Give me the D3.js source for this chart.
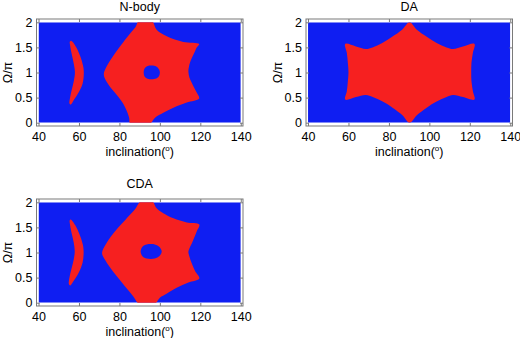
<!DOCTYPE html>
<html>
<head>
<meta charset="utf-8">
<script src="https://cdn.jsdelivr.net/npm/d3@7"></script>
<style>
  body { margin: 0; background: #fff; }
  svg { display: block; font-family: "Liberation Sans", Arial, sans-serif; }
  .tick line { stroke: #7a7a7a; }
  .tick text { font-size: 12.5px; fill: #000; }
</style>
</head>
<body>
<svg id="chart" width="520" height="338"></svg>
<script>
// axis ticks
var xTicks = [40, 60, 80, 100, 120, 140];
var yTicks = [0, 0.5, 1, 1.5, 2];
var yTickLabels = ["0", "0.5", "1", "1.5", "2"];
var panelTitles = ["N-body", "DA", "CDA"];

// grid extent of the scan (inclination, Omega/pi)
var incRange = [40, 140];
var omegaRange = [0, 2];

// red (stable) regions, traced as [inclination, Omega/pi] outlines
var nbodyMain = [[89.8,2.04],[95.9,2.04],[98.4,1.85],[103.4,1.72],[111.6,1.61],[119.4,1.57],
  [118.2,1.5],[117.1,1.4],[115.9,1.3],[114.9,1.2],[114.3,1.1],[114.1,1.02],[114.6,0.9],
  [115.7,0.8],[116.9,0.7],[118.2,0.6],[119.4,0.48],[113.3,0.4],[106.7,0.3],[101.7,0.2],
  [97.6,0.1],[94.6,-0.04],[85.5,-0.04],[84.8,0.1],[84.0,0.2],[82.9,0.3],[81.5,0.4],[79.7,0.5],
  [77.7,0.6],[75.6,0.7],[73.9,0.8],[72.6,0.9],[72.3,0.98],[73.4,1.1],[74.8,1.2],[76.4,1.3],
  [78.1,1.4],[79.9,1.5],[81.8,1.6],[83.8,1.7],[85.8,1.8],[87.9,1.9]];
var nbodyArc = [[56.3,1.63],[58.4,1.52],[60.5,1.34],[62.0,1.14],[62.4,1.0],[61.8,0.78],[59.8,0.6],
  [57.6,0.46],[55.9,0.36],[55.3,0.38],[55.6,0.5],[56.4,0.65],[57.4,0.82],[58.0,1.0],[57.4,1.18],
  [56.5,1.35],[55.7,1.52],[55.5,1.62]];
var nbodyHole = [[92.0,1.0],[92.6,1.09],[94.0,1.13],[96.0,1.14],[98.2,1.12],[99.6,1.06],[100.0,1.0],
  [99.6,0.93],[98.2,0.88],[96.0,0.865],[94.0,0.875],[92.6,0.91]];

var daMain = [[90.2,2.0],[93.8,1.85],[98.7,1.71],[103.6,1.59],[108.5,1.5],[111.7,1.47],[116.6,1.52],
  [122.3,1.57],[121.5,1.39],[120.8,1.19],[120.7,1.0],[120.8,0.83],[121.5,0.63],[122.3,0.46],
  [116.6,0.51],[111.7,0.55],[108.5,0.51],[103.6,0.42],[98.7,0.3],[93.8,0.15],[90.2,0.0],
  [86.7,0.15],[81.8,0.3],[76.9,0.42],[72.0,0.51],[68.6,0.55],[63.7,0.51],[58.4,0.46],
  [59.2,0.63],[59.7,0.83],[60.0,1.0],[59.7,1.19],[59.2,1.39],[58.4,1.57],[63.7,1.52],
  [68.6,1.47],[71.9,1.5],[76.7,1.59],[81.6,1.71],[86.5,1.85]];

var cdaMain = [[91.0,2.04],[95.9,2.04],[98.4,1.88],[101.7,1.78],[106.7,1.68],[113.3,1.6],[119.5,1.56],
  [118.2,1.42],[116.2,1.22],[114.6,1.08],[114.1,1.01],[114.6,0.92],[115.7,0.79],[117.4,0.63],
  [119.5,0.48],[114.1,0.4],[108.3,0.3],[103.3,0.18],[100.0,0.1],[97.1,-0.04],[90.1,-0.04],
  [86.8,0.13],[82.7,0.33],[78.6,0.53],[75.2,0.71],[72.8,0.86],[71.4,0.99],[73.2,1.16],
  [75.8,1.32],[79.2,1.49],[82.9,1.65],[87.5,1.85]];
var cdaArc = [[55.9,1.66],[58.1,1.55],[60.3,1.36],[61.9,1.16],[62.3,1.02],[61.8,0.8],[59.9,0.6],
  [57.5,0.44],[55.6,0.34],[55.0,0.37],[55.3,0.5],[56.2,0.66],[57.3,0.84],[57.9,1.02],[57.4,1.2],
  [56.4,1.38],[55.6,1.55],[55.4,1.64]];
var cdaHole = [[90.5,1.02],[91.5,1.12],[93.5,1.16],[97.5,1.16],[99.8,1.11],[100.9,1.02],
  [99.8,0.93],[97.5,0.88],[93.5,0.88],[91.5,0.92]];

var stableRegions = [[nbodyMain, nbodyArc], [daMain], [cdaMain, cdaArc]];
var holeRegions = [[nbodyHole], [], [cdaHole]];

var BLUE = "#0f1ef2", RED = "#f62020";
var panelW = 206.5, panelH = 107;
var layout = [
  {left: 36.5, top: 19, titleY: -8},
  {left: 306, top: 19, titleY: -8},
  {left: 36.5, top: 199, titleY: -11}
];

var svg = d3.select("#chart");
var x = d3.scaleLinear().domain([39.0, 141.1]).range([0, panelW]);
var y = d3.scaleLinear().domain([-0.066, 2.066]).range([panelH, 0]);

var outline = d3.line()
  .x(function(d){ return x(d[0]); })
  .y(function(d){ return y(d[1]); })
  .curve(d3.curveCatmullRomClosed.alpha(0.5));

panelTitles.forEach(function(title, p){
  var pos = layout[p];
  var g = svg.append("g").attr("transform", "translate(" + pos.left + "," + pos.top + ")");

  g.append("clipPath").attr("id", "clip" + p)
    .append("rect")
    .attr("x", x(incRange[0])).attr("y", y(omegaRange[1]))
    .attr("width", x(incRange[1]) - x(incRange[0]))
    .attr("height", y(omegaRange[0]) - y(omegaRange[1]));

  var field = g.append("g").attr("clip-path", "url(#clip" + p + ")");
  field.append("rect")
    .attr("x", x(incRange[0])).attr("y", y(omegaRange[1]))
    .attr("width", x(incRange[1]) - x(incRange[0]))
    .attr("height", y(omegaRange[0]) - y(omegaRange[1]))
    .attr("fill", BLUE);

  field.selectAll("path.stable").data(stableRegions[p]).enter()
    .append("path").attr("class", "stable")
    .attr("d", outline).attr("fill", RED);

  field.selectAll("path.hole").data(holeRegions[p]).enter()
    .append("path").attr("class", "hole")
    .attr("d", outline).attr("fill", BLUE);

  // axes, ticks pointing inward on all four sides
  g.append("g").attr("transform", "translate(0," + panelH + ")")
    .call(d3.axisBottom(x).tickValues(xTicks).tickSize(-3).tickSizeOuter(0).tickPadding(6));
  g.append("g")
    .call(d3.axisTop(x).tickValues(xTicks).tickSize(-3).tickSizeOuter(0).tickFormat(""));
  g.append("g")
    .call(d3.axisLeft(y).tickValues(yTicks).tickSize(-3).tickSizeOuter(0).tickPadding(4)
      .tickFormat(function(d, i){ return yTickLabels[i]; }));
  g.append("g").attr("transform", "translate(" + panelW + ",0)")
    .call(d3.axisRight(y).tickValues(yTicks).tickSize(-3).tickSizeOuter(0).tickFormat(""));
  g.selectAll(".domain").remove();
  g.selectAll(".tick text").attr("font-family", null);

  g.append("rect").attr("width", panelW).attr("height", panelH)
    .attr("fill", "none").attr("stroke", "#7a7a7a").attr("stroke-width", 1);

  g.append("text").attr("x", panelW / 2).attr("y", pos.titleY)
    .attr("text-anchor", "middle").attr("font-size", 12.5).text(title);

  g.append("text")
    .attr("transform", "translate(-24.5," + (panelH / 2) + ") rotate(-90)")
    .attr("text-anchor", "middle").attr("font-size", 12.5).text("Ω/π");

  var xl = g.append("text").attr("x", panelW / 2).attr("y", panelH + 30)
    .attr("text-anchor", "middle").attr("font-size", 12.5);
  xl.append("tspan").text("inclination(");
  xl.append("tspan").attr("font-size", 8).attr("dy", -5).text("o");
  xl.append("tspan").attr("dy", 5).text(")");
});
</script>
</body>
</html>
